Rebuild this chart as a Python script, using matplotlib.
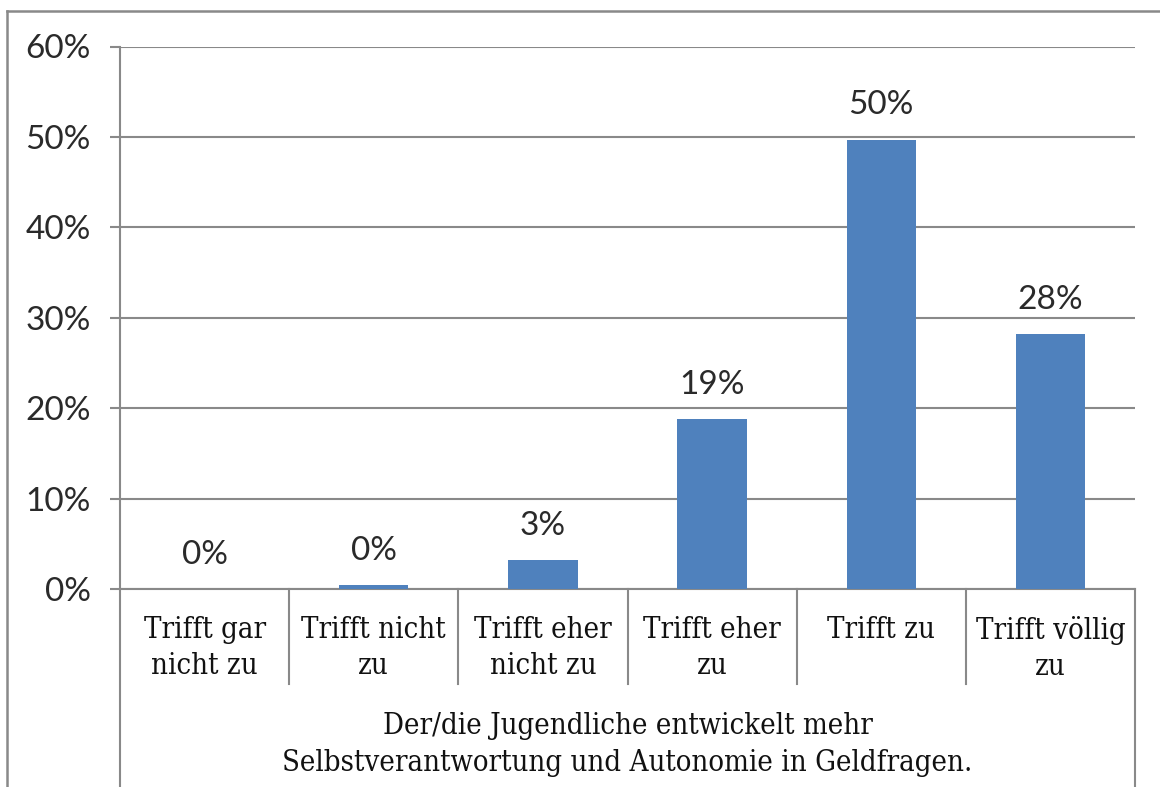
import matplotlib
matplotlib.use("Agg")
import matplotlib.pyplot as plt
from matplotlib.lines import Line2D
from matplotlib.ticker import PercentFormatter

# Werte (in %)
categories = ["Trifft gar\nnicht zu", "Trifft nicht\nzu", "Trifft eher\nnicht zu",
              "Trifft eher\nzu", "Trifft zu", "Trifft völlig\nzu"]
values = [0.0, 0.4, 3.2, 18.8, 49.7, 28.2]
value_labels = ["0%", "0%", "3%", "19%", "50%", "28%"]
group_label = "Der/die Jugendliche entwickelt mehr\nSelbstverantwortung und Autonomie in Geldfragen."
y_ticks = [0, 10, 20, 30, 40, 50, 60]

grey = "#898989"
blue = "#4F81BD"
num_font = "Lato"
cat_font = "DejaVu Serif"

fig = plt.figure(figsize=(11.6, 7.87), dpi=100)
ax = fig.add_axes([120 / 1160, 1 - 589 / 787, (1135 - 120) / 1160, (589 - 46.5) / 787])

x = range(len(values))
ax.bar(x, values, width=0.41, color=blue, zorder=3)

ax.set_xlim(-0.5, len(values) - 0.5)
ax.set_ylim(0, 60)
ax.set_yticks(y_ticks)
ax.yaxis.set_major_formatter(PercentFormatter(decimals=0))
ax.set_xticks([])
ax.grid(axis="y", color=grey, linewidth=1.5, zorder=0)
for s in ["top", "right"]:
    ax.spines[s].set_visible(False)
for s in ["left", "bottom"]:
    ax.spines[s].set_color(grey)
    ax.spines[s].set_linewidth(1.5)
ax.tick_params(axis="y", length=7, width=1.5, color=grey, pad=14)
for lab in ax.get_yticklabels():
    lab.set_fontfamily(num_font)
    lab.set_fontsize(24)
    lab.set_color("#2a2a2a")

# Datenbeschriftungen
for i, (v, t) in enumerate(zip(values, value_labels)):
    ax.annotate(t, (i, v), xytext=(0, 14), textcoords="offset points",
                ha="center", va="bottom", fontsize=24, family=num_font, color="#2a2a2a")

# Kategorienachse mit Trennlinien
n = len(categories)
h = 589 - 46.5
sep_y = -(684 - 589) / h
outer_y = -(787 - 589) / h
for k in range(1, n):
    ax.add_line(Line2D([k / n, k / n], [0, sep_y], transform=ax.transAxes,
                       color=grey, lw=1.5, clip_on=False))
for xe in [0, 1]:
    ax.add_line(Line2D([xe, xe], [0, outer_y], transform=ax.transAxes,
                       color=grey, lw=1.5, clip_on=False))

trans = ax.get_xaxis_transform()
for i, c in enumerate(categories):
    ax.text(i, -(616 - 589) / h, c, transform=trans, ha="center", va="top",
            fontsize=21, family=cat_font, fontstretch="condensed",
            color="#111111", linespacing=1.38)

ax.text(0.5, -(712 - 589) / h, group_label, transform=ax.transAxes,
        ha="center", va="top", fontsize=21, family=cat_font, fontstretch="condensed",
        color="#111111", linespacing=1.4)

# Rahmen um das Diagramm
fig.add_artist(Line2D([7 / 1160, 7 / 1160], [0, 1 - 11 / 787], color=grey, lw=1.8))
fig.add_artist(Line2D([7 / 1160, 1], [1 - 11 / 787, 1 - 11 / 787], color=grey, lw=1.8))

fig.savefig("out.png", dpi=100, facecolor="white")
